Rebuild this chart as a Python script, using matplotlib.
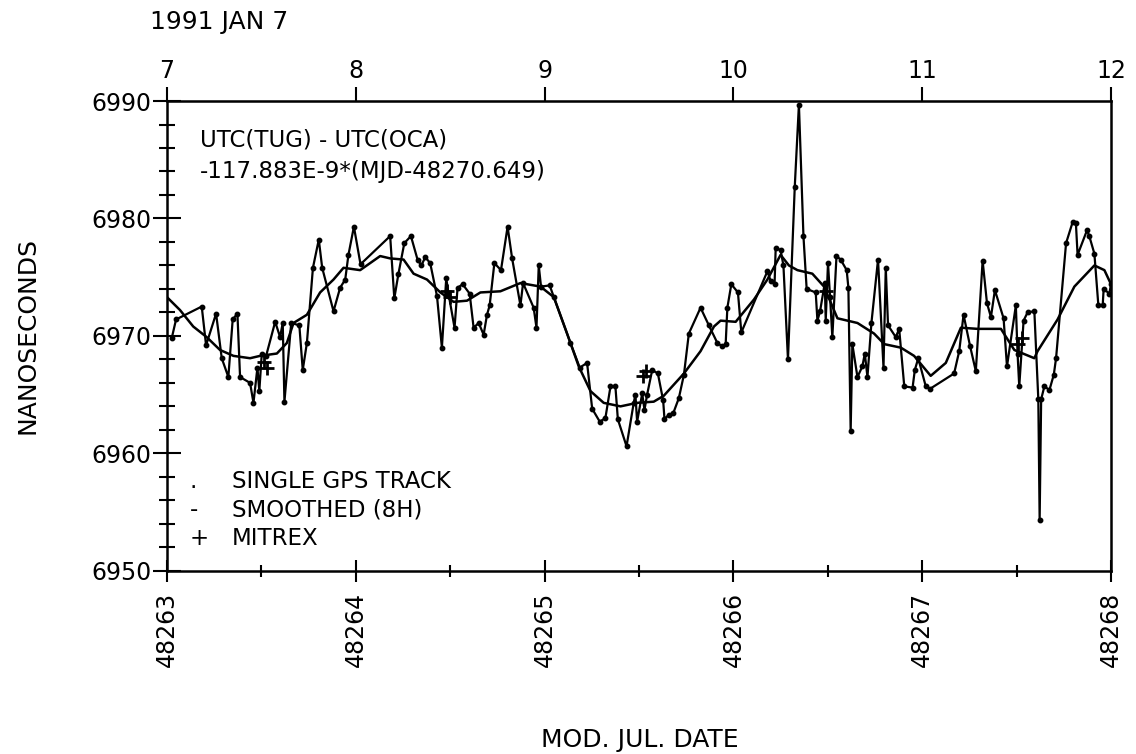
import numpy as np
import matplotlib
matplotlib.use("Agg")
import matplotlib.pyplot as plt
from matplotlib.ticker import MultipleLocator

# MJD of the first day shown (1991 JAN 7)
mjd0 = 48263

# single GPS track comparisons, time in days after mjd0, value in ns
t_gps = [0.025, 0.048, 0.184, 0.207, 0.260, 0.290, 0.325, 0.348, 0.373, 0.387,
         0.440, 0.458, 0.479, 0.489, 0.502, 0.525, 0.573, 0.599, 0.613, 0.622,
         0.658, 0.701, 0.719, 0.741, 0.773, 0.804, 0.822, 0.882, 0.917, 0.944,
         0.961, 0.990, 1.025, 1.182, 1.204, 1.226, 1.257, 1.292, 1.327, 1.347,
         1.368, 1.394, 1.430, 1.456, 1.479, 1.491, 1.523, 1.539, 1.566, 1.603,
         1.624, 1.651, 1.677, 1.695, 1.709, 1.734, 1.769, 1.804, 1.828, 1.872,
         1.886, 1.942, 1.957, 1.969, 1.981, 2.027, 2.049, 2.137, 2.186, 2.225,
         2.252, 2.292, 2.322, 2.349, 2.375, 2.388, 2.434, 2.472, 2.481, 2.490,
         2.517, 2.529, 2.543, 2.570, 2.600, 2.628, 2.635, 2.658, 2.681, 2.711,
         2.738, 2.764, 2.826, 2.870, 2.915, 2.941, 2.959, 2.968, 2.989, 3.024,
         3.042, 3.180, 3.197, 3.218, 3.224, 3.250, 3.265, 3.289, 3.325, 3.347,
         3.371, 3.388, 3.436, 3.445, 3.459, 3.484, 3.489, 3.501, 3.512, 3.524,
         3.546, 3.568, 3.600, 3.609, 3.621, 3.630, 3.657, 3.683, 3.696, 3.710,
         3.731, 3.766, 3.795, 3.807, 3.819, 3.860, 3.878, 3.905, 3.949, 3.961,
         3.979, 4.019, 4.042, 4.169, 4.196, 4.219, 4.254, 4.284, 4.320, 4.343,
         4.364, 4.385, 4.431, 4.449, 4.496, 4.505, 4.514, 4.537, 4.558, 4.594,
         4.615, 4.622, 4.630, 4.647, 4.674, 4.697, 4.709, 4.762, 4.797, 4.814,
         4.823, 4.873, 4.885, 4.912, 4.933, 4.956, 4.961, 4.991, 5.000]
ns_gps = [6969.8, 6971.4, 6972.5, 6969.2, 6971.9, 6968.1, 6966.5, 6971.4, 6971.9, 6966.5,
          6966.0, 6964.3, 6967.3, 6965.3, 6968.5, 6968.3, 6971.2, 6969.9, 6971.1, 6964.4,
          6971.1, 6970.9, 6967.1, 6969.4, 6975.8, 6978.2, 6975.8, 6972.1, 6974.1, 6974.8,
          6976.9, 6979.3, 6976.1, 6978.5, 6973.2, 6975.3, 6977.9, 6978.5, 6976.5, 6976.0,
          6976.7, 6976.2, 6973.4, 6969.0, 6974.9, 6973.6, 6970.7, 6974.1, 6974.4, 6973.6,
          6970.7, 6971.1, 6970.1, 6971.8, 6972.6, 6976.2, 6975.6, 6979.3, 6976.6, 6972.6,
          6974.5, 6972.4, 6970.7, 6976.0, 6974.2, 6974.3, 6973.3, 6969.4, 6967.3, 6967.7,
          6963.8, 6962.7, 6963.0, 6965.7, 6965.7, 6962.9, 6960.6, 6964.3, 6965.0, 6962.7,
          6965.1, 6963.7, 6965.0, 6967.1, 6966.8, 6964.5, 6962.9, 6963.3, 6963.4, 6964.7,
          6966.7, 6970.2, 6972.4, 6970.9, 6969.4, 6969.1, 6969.3, 6972.4, 6974.4, 6973.7,
          6970.3, 6975.5, 6974.7, 6974.4, 6977.5, 6977.3, 6976.0, 6968.0, 6982.7, 6989.7,
          6978.5, 6974.0, 6973.7, 6971.3, 6972.1, 6974.5, 6971.3, 6976.2, 6973.3, 6969.9,
          6976.8, 6976.5, 6975.6, 6974.1, 6961.9, 6969.3, 6966.5, 6967.4, 6968.5, 6966.5,
          6971.1, 6976.5, 6967.3, 6975.8, 6970.9, 6969.9, 6970.6, 6965.7, 6965.6, 6967.1,
          6968.1, 6965.7, 6965.5, 6966.8, 6968.7, 6971.8, 6969.1, 6967.0, 6976.4, 6972.8,
          6971.6, 6973.9, 6971.5, 6967.4, 6972.6, 6968.5, 6965.7, 6971.3, 6972.0, 6972.1,
          6964.6, 6954.3, 6964.6, 6965.7, 6965.4, 6966.7, 6968.1, 6977.9, 6979.7, 6979.6,
          6976.9, 6979.0, 6978.5, 6977.0, 6972.6, 6972.6, 6974.0, 6973.6, 6974.4]

# smoothed (8H) curve
t_smooth = [0.0, 0.069, 0.139, 0.210, 0.281, 0.352, 0.440, 0.493, 0.582, 0.635,
            0.670, 0.741, 0.811, 0.882, 0.935, 1.023, 1.129, 1.182, 1.253, 1.306,
            1.377, 1.448, 1.518, 1.589, 1.660, 1.766, 1.872, 1.978, 2.049, 2.119,
            2.181, 2.243, 2.313, 2.402, 2.490, 2.578, 2.631, 2.738, 2.826, 2.897,
            2.932, 3.012, 3.109, 3.180, 3.250, 3.294, 3.339, 3.418, 3.480, 3.551,
            3.657, 3.745, 3.799, 3.887, 3.957, 4.045, 4.125, 4.205, 4.293, 4.417,
            4.488, 4.594, 4.611, 4.717, 4.806, 4.912, 4.965, 5.000]
ns_smooth = [6973.3, 6972.2, 6970.8, 6969.9, 6968.8, 6968.3, 6968.1, 6968.3, 6968.5, 6969.4,
             6971.1, 6971.8, 6973.7, 6974.8, 6975.8, 6975.6, 6976.8, 6976.6, 6976.5, 6975.3,
             6974.8, 6973.7, 6972.9, 6973.0, 6973.7, 6973.8, 6974.5, 6974.2, 6973.3, 6970.2,
             6967.4, 6965.3, 6964.3, 6964.0, 6964.3, 6964.4, 6964.9, 6966.8, 6968.7, 6970.8,
             6971.3, 6971.2, 6973.1, 6974.8, 6976.9, 6976.0, 6975.6, 6975.3, 6974.2, 6971.5,
             6971.1, 6970.2, 6969.3, 6969.0, 6968.3, 6966.6, 6967.7, 6970.7, 6970.6, 6970.6,
             6968.8, 6968.1, 6968.7, 6971.4, 6974.2, 6976.0, 6975.6, 6974.4]

# MITREX points
t_mitrex = [0.515, 0.530, 1.485, 1.500, 2.520, 2.535, 3.490, 4.510, 4.530]
ns_mitrex = [6967.8, 6967.3, 6973.8, 6973.3, 6966.6, 6967.0, 6973.8, 6969.3, 6969.8]

mjd_gps = mjd0 + np.array(t_gps)
mjd_smooth = mjd0 + np.array(t_smooth)
mjd_mitrex = mjd0 + np.array(t_mitrex)

plt.rcParams['font.family'] = ['DejaVu Sans']
fs = 16.5      # text inside the plot
fs_tick = 17   # tick labels
fs_lab = 18    # axis labels

fig = plt.figure(figsize=(11.36, 7.54), dpi=100)
ax = fig.add_axes([0.147, 0.243, 0.831, 0.623])

ax.plot(mjd_gps, ns_gps, color='black', lw=1.6, marker='o', ms=3.2)
ax.plot(mjd_smooth, ns_smooth, color='black', lw=1.8)
ax.plot(mjd_mitrex, ns_mitrex, ls='none', color='black', marker='+', ms=10, mew=2)

ax.set_xlim(48263, 48268)
ax.set_ylim(6950, 6990)

ax.xaxis.set_minor_locator(MultipleLocator(0.5))
ax.yaxis.set_minor_locator(MultipleLocator(2))
ax.set_xticks(range(48263, 48269))
ax.set_xticklabels([str(v) for v in range(48263, 48269)], rotation=90, fontsize=fs_tick)
ax.set_yticks([6950, 6960, 6970, 6980, 6990])
ax.set_yticklabels(['6950', '6960', '6970', '6980', '6990'], fontsize=fs_tick)

ax.tick_params(axis='x', which='major', direction='inout', length=16, width=1.5, pad=7)
ax.tick_params(axis='x', which='minor', direction='inout', length=8, width=1.5)
ax.tick_params(axis='y', which='major', direction='inout', length=20, width=1.5, pad=1)
ax.tick_params(axis='y', which='minor', direction='inout', length=11, width=1.5)
for s in ax.spines.values():
    s.set_linewidth(1.8)

# day-of-month axis on top
top = ax.secondary_xaxis('top', functions=(lambda m: m - 48256, lambda d: d + 48256))
top.set_xticks(range(7, 13))
top.set_xticklabels([str(d) for d in range(7, 13)], fontsize=fs_tick)
top.tick_params(direction='out', length=10, width=1.5, pad=3)
top.xaxis.set_minor_locator(plt.NullLocator())

ax.text(0.035, 0.917, 'UTC(TUG) - UTC(OCA)', transform=ax.transAxes,
        fontsize=fs, va='center', ha='left')
ax.text(0.035, 0.849, '-117.883E-9*(MJD-48270.649)', transform=ax.transAxes,
        fontsize=fs, va='center', ha='left')

legend_sym = ['.', '-', '+']
legend_txt = ['SINGLE GPS TRACK', 'SMOOTHED (8H)', 'MITREX']
legend_y = [0.191, 0.130, 0.068]
for sym, txt, yy in zip(legend_sym, legend_txt, legend_y):
    ax.text(0.024, yy, sym, transform=ax.transAxes, fontsize=fs, va='center', ha='left')
    ax.text(0.069, yy, txt, transform=ax.transAxes, fontsize=fs, va='center', ha='left')

fig.text(0.132, 0.971, '1991 JAN 7', fontsize=fs_lab, va='center', ha='left')
fig.text(0.024, 0.555, 'NANOSECONDS', fontsize=fs_lab, rotation=90, va='center', ha='center')
fig.text(0.563, 0.019, 'MOD. JUL. DATE', fontsize=fs_lab, va='center', ha='center')

fig.savefig('out.png', dpi=100, facecolor='white')
